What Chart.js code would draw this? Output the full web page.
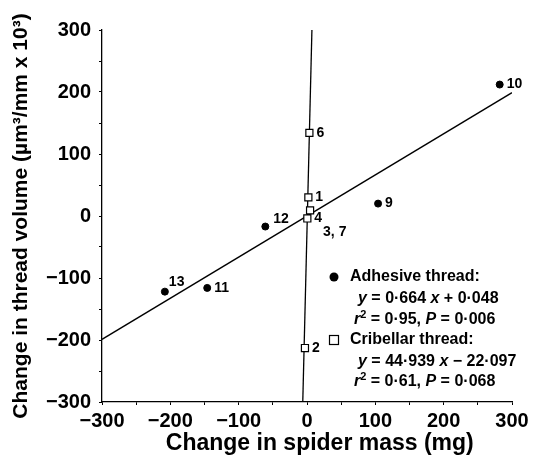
<!DOCTYPE html>
<html>
<head>
<meta charset="utf-8">
<script src="https://cdn.jsdelivr.net/npm/chart.js@4/dist/chart.umd.min.js"></script>
<style>
  html, body { margin: 0; padding: 0; background: #fff; }
  #wrap { width: 533px; height: 457px; }
</style>
</head>
<body>
<div id="wrap"><canvas id="chart" width="533" height="457"></canvas></div>
<script>
// --- Дані ---
const adhesiveX = [282, 104, -61, -146, -208];
const adhesiveY = [212, 20, -17, -116, -122];
const adhesiveIds = ["10", "9", "12", "11", "13"];

const cribellarX = [2, 3.5, -3, 0.5, 4.5];
const cribellarY = [30, 134, -213, -4, 9];
const cribellarIds = ["1", "6", "2", "4", "3, 7"];

// кінці ліній регресії, як на малюнку
const adhesiveFitX = [-300, 300];
const adhesiveFitY = [-199, 199];
const cribellarFitX = [-6.2, 7.2];
const cribellarFitY = [-300, 300];

const axisMin = -300;
const axisMax = 300;
const tickStep = 50;

const xTitle = "Change in spider mass (mg)";
const yTitle = "Change in thread volume (µm³/mm x 10³)";

const noteAdhesive = ["Adhesive thread:", "0·664", "0·048", "0·95", "0·006"];
const noteCribellar = ["Cribellar thread:", "44·939", "22·097", "0·61", "0·068"];

// --- стилі підписів точок (зсув від точки) ---
const labelShift = {
  "12": [8, -7],
  "13": [4, -9],
  "3, 7": [13, 22],
};

const FONT = "'Liberation Sans', Arial, sans-serif";

function toPoints(xs, ys) {
  return xs.map((x, i) => ({ x: x, y: ys[i] }));
}

function tickLabel(v) {
  if (v % 100 !== 0) return "";
  return String(v).replace("-", "\u2212");
}

// --- плагін: номери точок та текст рівнянь ---
const notesPlugin = {
  id: "notes",
  afterDatasetsDraw(chart) {
    const c = chart.ctx;
    c.save();
    c.fillStyle = "#000";
    c.textBaseline = "middle";

    // номери біля точок
    c.font = "bold 14px " + FONT;
    [[0, adhesiveIds], [1, cribellarIds]].forEach(([di, ids]) => {
      const meta = chart.getDatasetMeta(di);
      meta.data.forEach((el, i) => {
        const s = labelShift[ids[i]] || [7, 0];
        c.fillText(ids[i], el.x + s[0], el.y + s[1]);
      });
    });

    // пояснення справа
    const mx = 334;
    const tx = 350;
    const rows = [277, 299, 320, 340, 362, 382];

    c.beginPath();
    c.arc(mx, rows[0], 4.5, 0, Math.PI * 2);
    c.fill();
    c.lineWidth = 1.2;
    c.strokeStyle = "#000";
    c.strokeRect(mx - 4.5, rows[3] - 4.5, 9, 9);

    drawBlock(c, noteAdhesive, tx, rows[0], rows[1], rows[2], "+");
    drawBlock(c, noteCribellar, tx, rows[3], rows[4], rows[5], "\u2212");
    c.restore();
  },
};

function drawParts(c, parts, x, y) {
  parts.forEach((p) => {
    const size = p.sup ? 11 : 16;
    c.font = (p.it ? "italic " : "") + "bold " + size + "px " + FONT;
    c.fillText(p.t, x, p.sup ? y - 5 : y);
    x += c.measureText(p.t).width;
  });
}

function drawBlock(c, note, x, y1, y2, y3, sign) {
  c.textAlign = "left";
  drawParts(c, [{ t: note[0] }], x, y1);
  drawParts(c, [
    { t: "y", it: true },
    { t: " = " + note[1] + " " },
    { t: "x", it: true },
    { t: " " + sign + " " + note[2] },
  ], x + 8, y2);
  drawParts(c, [
    { t: "r", it: true },
    { t: "2", sup: true },
    { t: " = " + note[3] + ", " },
    { t: "P", it: true },
    { t: " = " + note[4] },
  ], x + 4, y3);
}

// --- графік ---
new Chart(document.getElementById("chart"), {
  type: "scatter",
  data: {
    datasets: [
      {
        label: "Adhesive thread",
        data: toPoints(adhesiveX, adhesiveY),
        pointStyle: "circle",
        pointRadius: 3.5,
        backgroundColor: "#000",
        borderColor: "#000",
        borderWidth: 1,
      },
      {
        label: "Cribellar thread",
        data: toPoints(cribellarX, cribellarY),
        pointStyle: "rect",
        pointRadius: 5,
        backgroundColor: "#fff",
        borderColor: "#000",
        borderWidth: 1.2,
      },
      {
        label: "Adhesive fit",
        data: toPoints(adhesiveFitX, adhesiveFitY),
        showLine: true,
        pointRadius: 0,
        borderColor: "#000",
        borderWidth: 1.3,
      },
      {
        label: "Cribellar fit",
        data: toPoints(cribellarFitX, cribellarFitY),
        showLine: true,
        pointRadius: 0,
        borderColor: "#000",
        borderWidth: 1.3,
      },
    ],
  },
  options: {
    responsive: false,
    animation: false,
    layout: { padding: { top: 30, right: 21, left: 0, bottom: 0 } },
    plugins: {
      legend: { display: false },
      tooltip: { enabled: false },
    },
    scales: {
      x: {
        type: "linear",
        min: axisMin,
        max: axisMax,
        afterFit: (s) => { s.height = 55; },
        ticks: {
          stepSize: tickStep,
          autoSkip: false,
          maxRotation: 0,
          padding: 4,
          color: "#000",
          font: { family: FONT, size: 20, weight: "bold" },
          callback: tickLabel,
        },
        grid: { drawOnChartArea: false, drawTicks: true, tickLength: 3, color: "#000" },
        border: { color: "#000", width: 1.3 },
        title: {
          display: true,
          text: "    " + xTitle,
          color: "#000",
          font: { family: FONT, size: 23, weight: "bold" },
          padding: { top: 0, bottom: 0 },
        },
      },
      y: {
        type: "linear",
        min: axisMin,
        max: axisMax,
        afterFit: (s) => { s.width = 102; },
        ticks: {
          stepSize: tickStep,
          autoSkip: false,
          padding: 8,
          color: "#000",
          font: { family: FONT, size: 20, weight: "bold" },
          callback: tickLabel,
        },
        grid: { drawOnChartArea: false, drawTicks: true, tickLength: 3, color: "#000" },
        border: { color: "#000", width: 1.3 },
        title: {
          display: true,
          text: yTitle,
          color: "#000",
          font: { family: FONT, size: 21, weight: "bold" },
          padding: { top: 9, bottom: 0 },
        },
      },
    },
  },
  plugins: [notesPlugin],
});
</script>
</body>
</html>
